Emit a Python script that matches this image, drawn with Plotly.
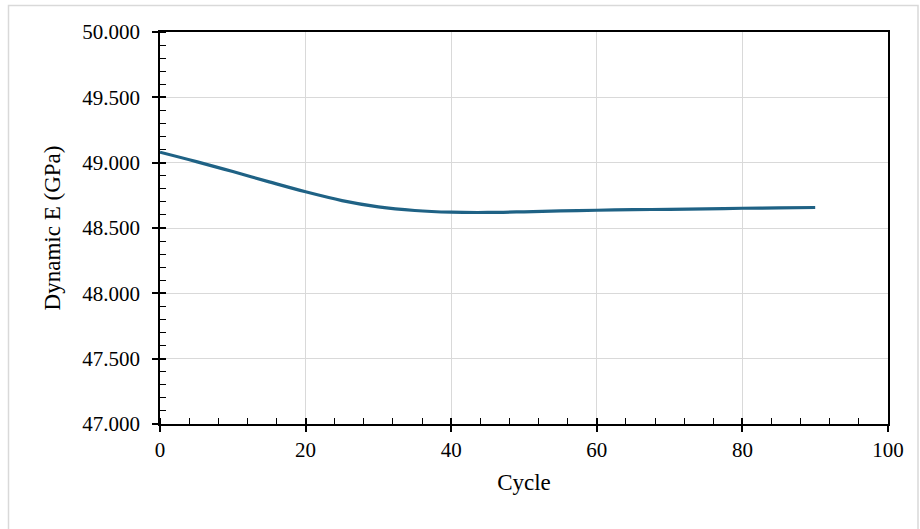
import plotly.graph_objects as go

cycles = [0, 5, 10, 15, 20, 25, 30, 35, 40, 45, 50, 55, 60, 65, 70, 75, 80, 85, 90]
dynamic_e = [49.080, 49.008, 48.932, 48.853, 48.777, 48.710, 48.662, 48.634, 48.621,
             48.619, 48.624, 48.631, 48.636, 48.640, 48.643, 48.647, 48.651, 48.654, 48.657]

x_ticks = [0, 20, 40, 60, 80, 100]
y_ticks = [47.0, 47.5, 48.0, 48.5, 49.0, 49.5, 50.0]

FONT = "Liberation Serif, Times New Roman, serif"

fig = go.Figure()
fig.add_trace(go.Scatter(
    x=cycles, y=dynamic_e, mode="lines",
    line=dict(color="#1f6285", width=3.2, shape="spline", smoothing=1.0),
    showlegend=False, hoverinfo="x+y",
))
# invisible trace for overlay axes (inner half of major ticks)
fig.add_trace(go.Scatter(x=[0], y=[47], xaxis="x2", yaxis="y2", mode="markers",
                         marker=dict(opacity=0), showlegend=False, hoverinfo="skip"))

fig.update_layout(
    width=920, height=529,
    margin=dict(l=160, r=32, t=32, b=105),
    paper_bgcolor="white", plot_bgcolor="white",
    font=dict(family=FONT, size=21, color="#000000"),
    xaxis=dict(
        range=[0, 100], tickvals=x_ticks, ticks="outside", ticklen=6, tickwidth=1.5,
        tickcolor="black", showline=True, linecolor="black", linewidth=1.5, mirror=True,
        showgrid=True, gridcolor="#d9d9d9", gridwidth=1, zeroline=False,
        minor=dict(dtick=4, ticks="inside", ticklen=6, tickwidth=1.3, tickcolor="black", showgrid=False),
        title=dict(text="Cycle", font=dict(family=FONT, size=23), standoff=13),
        tickfont=dict(family=FONT, size=21), ticklabelstandoff=0,
    ),
    yaxis=dict(
        range=[47, 50], tickvals=y_ticks, tickformat=".3f", ticks="outside", ticklen=6,
        tickwidth=1.5, tickcolor="black", showline=True, linecolor="black", linewidth=1.5,
        mirror=True, showgrid=True, gridcolor="#d9d9d9", gridwidth=1, zeroline=False,
        minor=dict(dtick=0.1, ticks="inside", ticklen=6, tickwidth=1.3, tickcolor="black", showgrid=False),
        title=dict(text="Dynamic E (GPa)", font=dict(family=FONT, size=23), standoff=15),
        tickfont=dict(family=FONT, size=21), ticklabelstandoff=8,
    ),
    xaxis2=dict(range=[0, 100], tickvals=x_ticks, ticks="inside", ticklen=6, tickwidth=1.5,
                tickcolor="black", showticklabels=False, showgrid=False, zeroline=False,
                overlaying="x", anchor="y2", side="bottom"),
    yaxis2=dict(range=[47, 50], tickvals=y_ticks, ticks="inside", ticklen=6, tickwidth=1.5,
                tickcolor="black", showticklabels=False, showgrid=False, zeroline=False,
                overlaying="y", anchor="x2", side="left"),
    shapes=[dict(type="rect", xref="paper", yref="paper",
                 x0=(8.5 - 160) / 728, x1=(918 - 160) / 728,
                 y0=(424 - 535) / 392, y1=(424 - 5.5) / 392,
                 line=dict(color="#d9d9d9", width=1.5), fillcolor="rgba(0,0,0,0)", layer="below")],
)

fig.write_html("out.html", config={"displayModeBar": False},
               post_script="document.body.style.margin='0';document.body.style.overflow='hidden';")
